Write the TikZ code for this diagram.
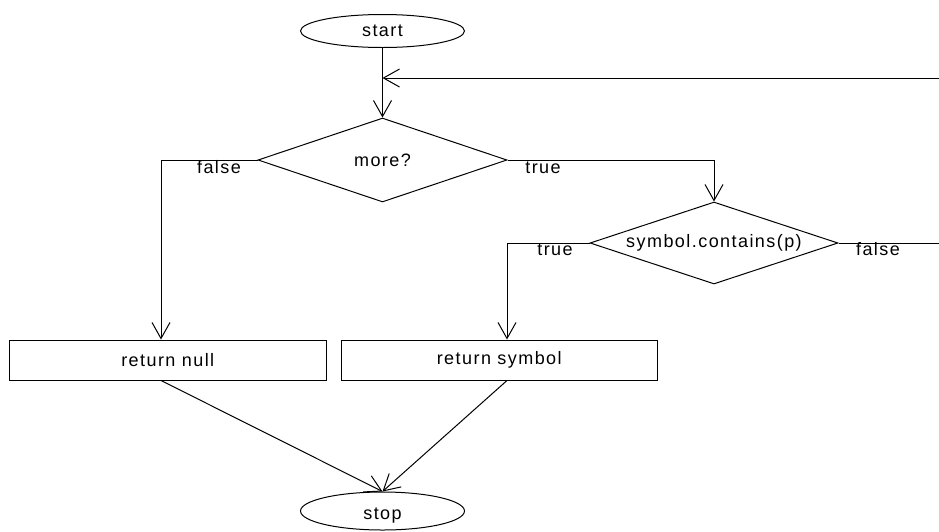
\documentclass[tikz,border=0pt]{standalone}
\usepackage{fontspec}
\setmainfont{Liberation Sans}[LetterSpace=8]
\usetikzlibrary{arrows.meta,shapes.geometric,calc}
\begin{document}
\begin{tikzpicture}[x=1pt,y=-1pt,
  every node/.style={font=\fontsize{18}{21}\selectfont},
  ln/.style={line width=1pt,draw=black},
  arr/.style={ln,-{Straight Barb[length=16pt,width=18pt,line width=1pt]}},
  term/.style={ln,ellipse,minimum width=164pt,minimum height=33pt,inner sep=0pt},
  decision/.style={ln,diamond,aspect=3,inner sep=0pt},
  proc/.style={ln,rectangle,minimum height=40pt,inner sep=0pt},
  lbl/.style={anchor=base,inner sep=0pt}]
\useasboundingbox (0,0) rectangle (939,531);
\node[term] (start) at (382.5,31) {start};
\node[term,minimum height=38pt] (stop) at (382.5,511) {\raisebox{0pt}[\dimexpr\height+9pt\relax][\depth]{stop}};
\node[decision,minimum width=249pt,minimum height=84pt] (d1) at (382.5,160) {more?};
\node[decision,minimum width=248pt,minimum height=82pt] (d2) at (714,243) {symbol.contains(p)};
\node[proc,minimum width=316.5pt] (rn) at (167.75,360) {return null};
\node[proc,minimum width=316.5pt] (rs) at (499.25,360) {return symbol};
\coordinate (j) at (382.5,78);
\coordinate (re) at (940,78);
\coordinate (re2) at (940,243);
\coordinate (fl) at (161,160);
\coordinate (tr) at (714,160);
\coordinate (tl) at (507,243);
% start to decision
\draw[arr] (start.south) -- (d1.north);
% loop back
\draw[arr] (re) -- (j);
% more? false
\draw[arr] (d1.west) -- (fl) -- (fl |- rn.north);
\node[lbl] (lf) at (219,173) {false};
% more? true
\draw[arr] (d1.east) -- (tr) -- (d2.north);
\node[lbl] (lt) at (543,173) {true};
% contains true
\draw[arr] (d2.west) -- (tl) -- (tl |- rs.north);
\node[lbl] (lt2) at (555,255) {true};
% contains false
\draw[ln] (d2.east) -- (re2);
\node[lbl] (lf2) at (878,255) {false};
% to stop
\draw[arr] (fl |- rn.south) -- (stop.north);
\draw[arr] (tl |- rs.south) -- (stop.north);
\end{tikzpicture}
\end{document}
